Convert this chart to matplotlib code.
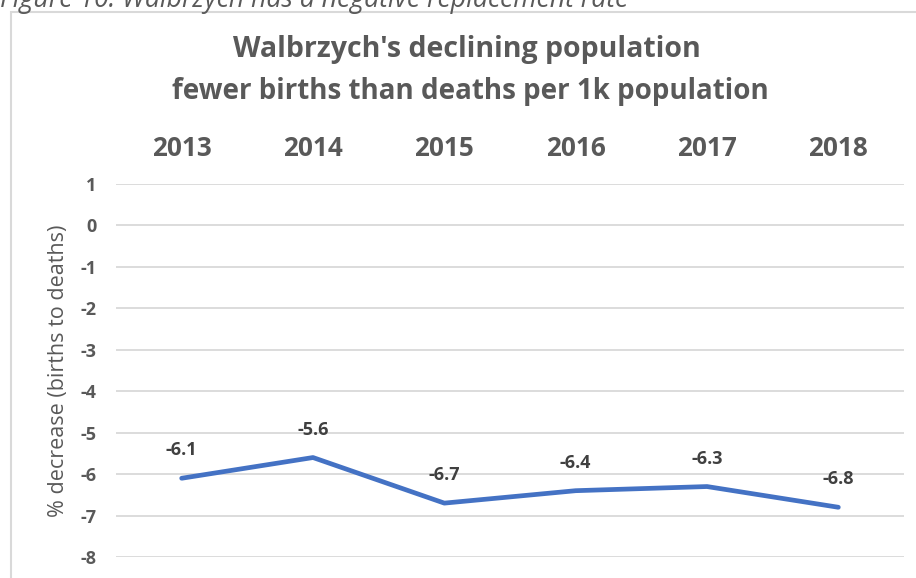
import matplotlib
matplotlib.use("Agg")
import matplotlib.pyplot as plt
from matplotlib.patches import Rectangle

years = ["2013", "2014", "2015", "2016", "2017", "2018"]
values = [-6.1, -5.6, -6.7, -6.4, -6.3, -6.8]
yticks = [1, 0, -1, -2, -3, -4, -5, -6, -7, -8]

plt.rcParams['font.family'] = ['Open Sans', 'DejaVu Sans']

W, H = 916, 578
fig = plt.figure(figsize=(W / 100, H / 100), dpi=100)
fig.patch.set_facecolor('white')

# chart border
fig.patches.append(Rectangle((11 / W, -0.1), 1.2, 1 - 12 / H + 0.1,
                             transform=fig.transFigure, fill=False,
                             edgecolor='#D9D9D9', linewidth=1.5))

# caption (cut off at the top, as in the reference)
fig.text(0 / W, 1 - 7 / H, "Figure 10: Walbrzych has a negative replacement rate",
         fontsize=19.2, style='italic', color='#5A5A5A', va='baseline', ha='left')

ax = fig.add_axes([116 / W, 1 - 557 / H, (904 - 116) / W, (557 - 184) / H])
x = list(range(len(years)))
ax.plot(x, values, color='#4472C4', linewidth=3.4, solid_capstyle='round')
for xi, v in zip(x, values):
    ax.annotate(f"{v:.1f}", (xi, v), xytext=(0, 20), textcoords='offset points',
                ha='center', va='center', fontsize=13, fontweight='bold', color='#404040')

ax.set_xlim(-0.5, len(years) - 0.5)
ax.set_ylim(-8, 1)
ax.set_yticks(yticks)
ax.set_yticklabels([str(t) for t in yticks])
ax.set_xticks(x)
ax.set_xticklabels(years)
ax.xaxis.tick_top()
ax.tick_params(axis='x', length=0, pad=15.5, labelsize=18.8, labelcolor='#595959')
ax.tick_params(axis='y', length=0, pad=14, labelsize=13, labelcolor='#595959')
for lab in ax.get_xticklabels() + ax.get_yticklabels():
    lab.set_fontweight('bold')
ax.grid(axis='y', color='#D9D9D9', linewidth=1.3)
ax.set_axisbelow(True)
for s in ax.spines.values():
    s.set_visible(False)

ax.set_ylabel("% decrease (births to deaths)", fontsize=15.5, color='#595959', labelpad=8)

fig.text(467 / W, 1 - 50 / H, "Walbrzych's declining population", ha='center', va='center',
         fontsize=20.5, fontweight='bold', color='#595959')
fig.text(470 / W, 1 - 92 / H, "fewer births than deaths per 1k population", ha='center', va='center',
         fontsize=20.0, fontweight='bold', color='#595959')

fig.savefig("out.png", dpi=100)
